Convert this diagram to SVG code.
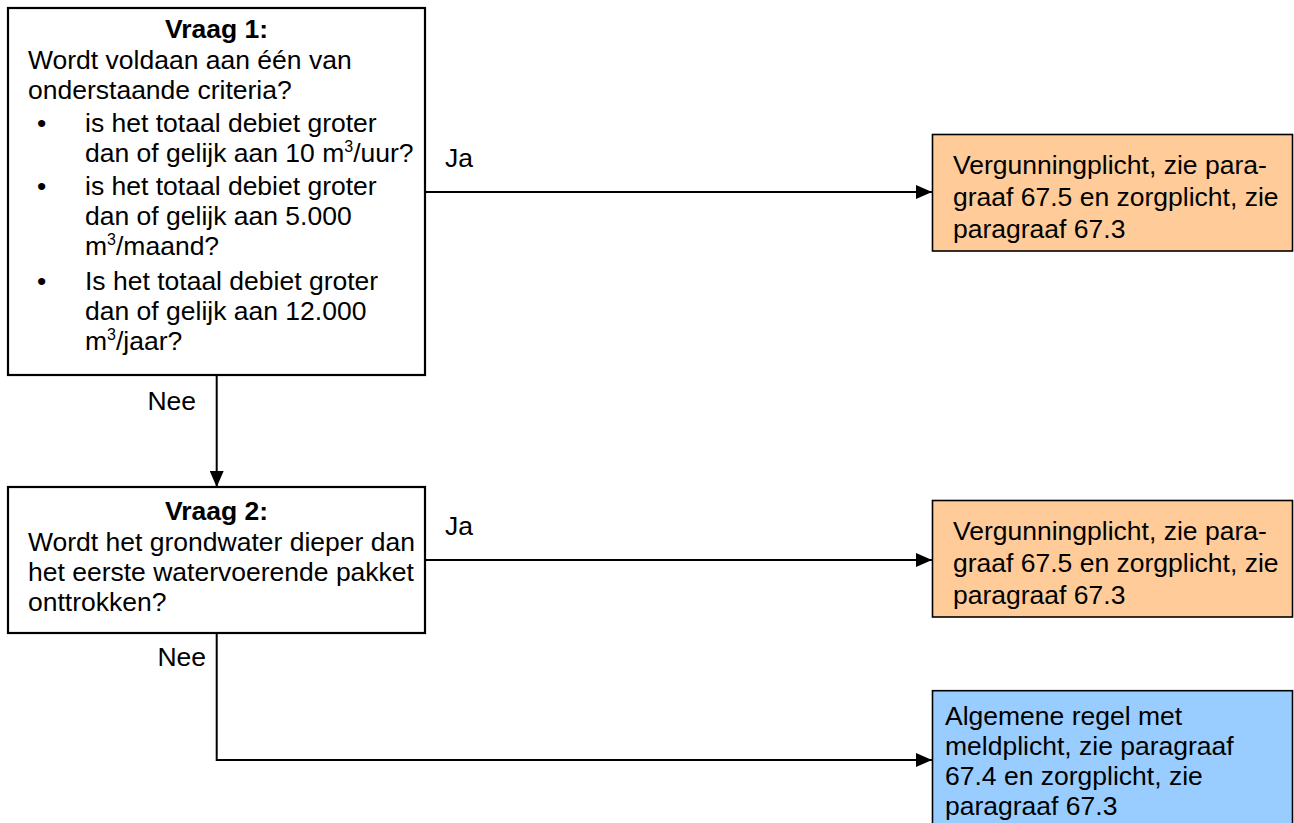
<svg xmlns="http://www.w3.org/2000/svg" width="1294" height="823" viewBox="0 0 1294 823">
<style>
text{font-family:"Liberation Sans",Arial,sans-serif;font-size:26.5px;fill:#000}
.b{font-weight:bold}
.q{fill:#fff;stroke:#000;stroke-width:2.2}
.o{fill:#FFCC99;stroke:#000;stroke-width:1.6}
.bl{fill:#99CCFF;stroke:#000;stroke-width:1.6}
.c{fill:none;stroke:#000;stroke-width:2}
.sup{font-size:16px}
</style>
<defs>
<marker id="ah" markerUnits="userSpaceOnUse" markerWidth="16" markerHeight="14" refX="16" refY="7" orient="auto">
<path d="M0,0 L16,7 L0,14 Z" fill="#000"/>
</marker>
</defs>
<rect width="1294" height="823" fill="#fff"/>
<g id="connectors">
<line class="c" x1="425" y1="192" x2="932" y2="192" marker-end="url(#ah)"/>
<line class="c" x1="425" y1="560" x2="932" y2="560" marker-end="url(#ah)"/>
<line class="c" x1="216.7" y1="375" x2="216.7" y2="487" marker-end="url(#ah)"/>
<polyline class="c" points="216.7,633 216.7,760 932,760" marker-end="url(#ah)"/>
<text x="445" y="167">Ja</text>
<text x="445" y="535">Ja</text>
<text text-anchor="end" x="196" y="409.5">Nee</text>
<text text-anchor="end" x="206" y="665.5">Nee</text>
</g>
<g id="vraag1">
<rect class="q" x="8" y="8" width="417" height="367"/>
<text class="b" text-anchor="middle" x="216.5" y="37.5">Vraag 1:</text>
<text x="28" y="68.5">Wordt voldaan aan één van</text>
<text x="28" y="99">onderstaande criteria?</text>
<text x="37" y="132">•</text>
<text x="85" y="132">is het totaal debiet groter</text>
<text x="85" y="162.2">dan of gelijk aan 10 m<tspan class="sup" dy="-10">3</tspan><tspan dy="10">/uur?</tspan></text>
<text x="37" y="194.5">•</text>
<text x="85" y="194.5">is het totaal debiet groter</text>
<text x="85" y="224.8">dan of gelijk aan 5.000</text>
<text x="85" y="254.8">m<tspan class="sup" dy="-10">3</tspan><tspan dy="10">/maand?</tspan></text>
<text x="37" y="290">•</text>
<text x="85" y="290">Is het totaal debiet groter</text>
<text x="85" y="320">dan of gelijk aan 12.000</text>
<text x="85" y="349.5">m<tspan class="sup" dy="-10">3</tspan><tspan dy="10">/jaar?</tspan></text>
</g>
<g id="vraag2">
<rect class="q" x="8" y="487" width="417" height="146"/>
<text class="b" text-anchor="middle" x="216.5" y="520">Vraag 2:</text>
<text x="28" y="551">Wordt het grondwater dieper dan</text>
<text x="28" y="581">het eerste watervoerende pakket</text>
<text x="28" y="611">onttrokken?</text>
</g>
<g id="vergunning1">
<rect class="o" x="932.5" y="134.5" width="360" height="116.5"/>
<text x="953" y="173.5">Vergunningplicht, zie para-</text>
<text x="953" y="205.5">graaf 67.5 en zorgplicht, zie</text>
<text x="953" y="237.5">paragraaf 67.3</text>
</g>
<g id="vergunning2">
<rect class="o" x="932.5" y="500.5" width="360" height="116.5"/>
<text x="953" y="539.5">Vergunningplicht, zie para-</text>
<text x="953" y="571.5">graaf 67.5 en zorgplicht, zie</text>
<text x="953" y="603.5">paragraaf 67.3</text>
</g>
<g id="algemeen">
<rect class="bl" x="932.5" y="690.7" width="360" height="140"/>
<text x="945" y="725">Algemene regel met</text>
<text x="945" y="755">meldplicht, zie paragraaf</text>
<text x="945" y="785">67.4 en zorgplicht, zie</text>
<text x="945" y="815">paragraaf 67.3</text>
</g>
</svg>
